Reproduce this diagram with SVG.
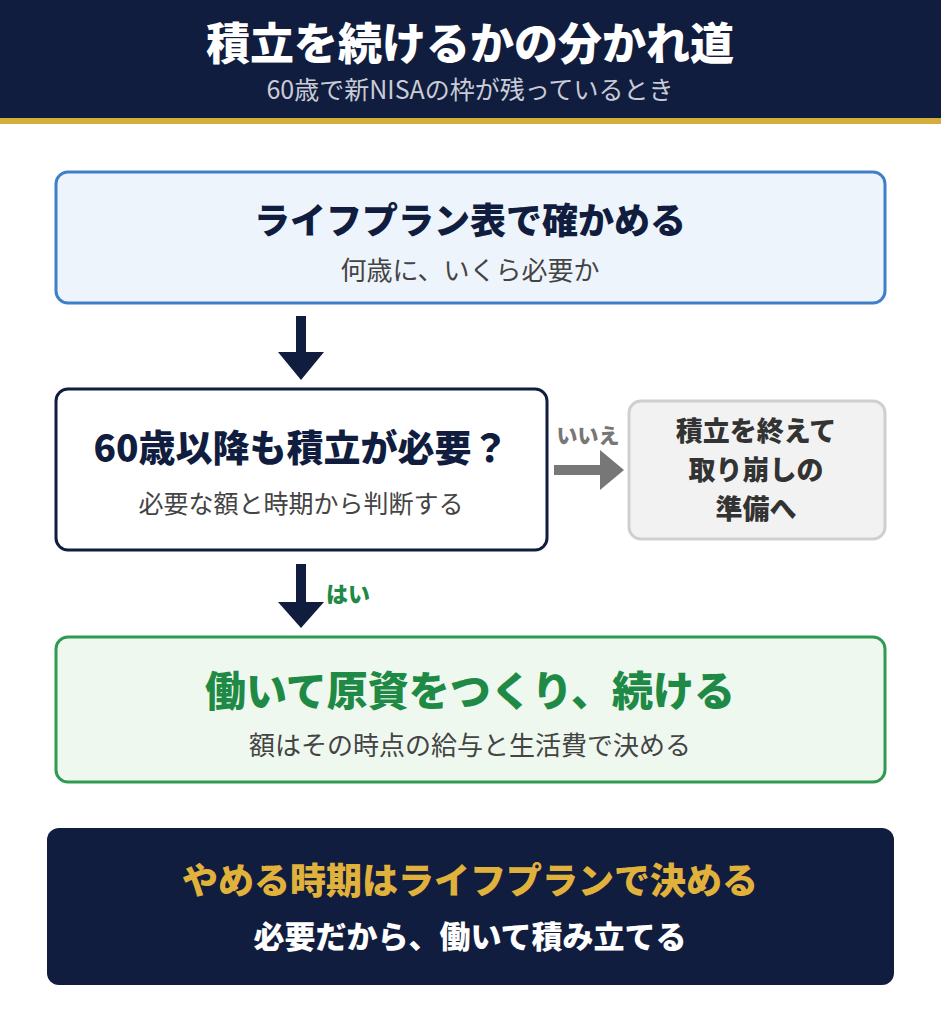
<svg xmlns="http://www.w3.org/2000/svg" width="941" height="1024" viewBox="0 0 941 1024">
<style>
text{font-family:"Noto Sans CJK JP","Noto Sans",sans-serif;text-anchor:middle}
.b{font-weight:900}
.sub{fill:#444}
.g{font-size:27px;fill:#333;font-weight:900}
</style>
<rect width="941" height="1024" fill="#fff"/>
<g id="header">
<rect x="0" y="0" width="941" height="118" fill="#111d3e"/>
<rect x="0" y="118" width="941" height="6" fill="#d4ae3c"/>
<text x="470" y="60" class="b" font-size="44" fill="#fff">積立を続けるかの分かれ道</text>
<text x="470" y="99" font-size="25" fill="#c9ccd6">60歳で新NISAの枠が残っているとき</text>
</g>
<g id="n1">
<rect x="56" y="172" width="829" height="131" rx="12" fill="#eef4fc" stroke="#3f7fc9" stroke-width="3"/>
<text x="470" y="234" class="b" font-size="36" fill="#111d3e">ライフプラン表で確かめる</text>
<text x="470" y="280" class="sub" font-size="26">何歳に、いくら必要か</text>
</g>
<g id="n2">
<rect x="56" y="389" width="491" height="161" rx="12" fill="#fff" stroke="#111d3e" stroke-width="3"/>
<text x="301" y="462" class="b" font-size="37" fill="#111d3e">60歳以降も積立が必要？</text>
<text x="301" y="513" class="sub" font-size="25">必要な額と時期から判断する</text>
</g>
<g id="n3">
<rect x="629" y="401" width="256" height="138" rx="12" fill="#f2f2f2" stroke="#cfcfcf" stroke-width="3"/>
<text x="756" y="441" class="g">積立を終えて</text>
<text x="756" y="480" class="g">取り崩しの</text>
<text x="756" y="519" class="g">準備へ</text>
</g>
<g id="n4">
<rect x="56" y="637" width="829" height="145" rx="12" fill="#eef8ef" stroke="#2e9a52" stroke-width="3"/>
<text x="470" y="706" class="b" font-size="41" fill="#1e8a45">働いて原資をつくり、続ける</text>
<text x="470" y="755" class="sub" font-size="26">額はその時点の給与と生活費で決める</text>
</g>
<g id="n5">
<rect x="47" y="828" width="847" height="157" rx="12" fill="#111d3e"/>
<text x="470" y="894" class="b" font-size="36" fill="#e0b23c">やめる時期はライフプランで決める</text>
<text x="470" y="948" class="b" font-size="31" fill="#fff">必要だから、働いて積み立てる</text>
</g>
<g id="connectors">
<rect x="296" y="316" width="10" height="38" fill="#111d3e"/>
<polygon points="278,352 324,352 301,380" fill="#111d3e"/>
<rect x="296" y="564" width="10" height="40" fill="#111d3e"/>
<polygon points="278,602 324,602 301,628" fill="#111d3e"/>
<text x="348" y="602" class="b" font-size="22" fill="#1e8a45">はい</text>
<rect x="554" y="465" width="48" height="10" fill="#777"/>
<polygon points="600,450 600,490 624,470" fill="#777"/>
<text x="588" y="443" class="b" font-size="21" fill="#777">いいえ</text>
</g>
</svg>
